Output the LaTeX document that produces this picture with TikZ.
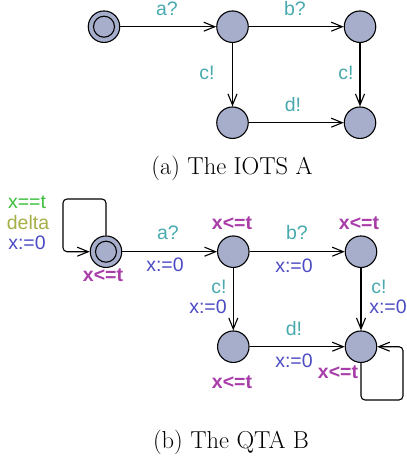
\documentclass[tikz,border=0pt]{standalone}
\usepackage{fontspec}
\newfontfamily\lblfont{Liberation Sans}
\usetikzlibrary{arrows.meta}
\definecolor{nodefill}{HTML}{A6AECC}
\definecolor{chancol}{HTML}{48AAAE}
\definecolor{asgcol}{HTML}{4B4BC3}
\definecolor{invcol}{HTML}{A83CA8}
\definecolor{grdcol}{HTML}{3CBE3C}
\definecolor{syncol}{HTML}{A5AF46}
\tikzset{
  loc/.style={circle, draw=black, fill=nodefill, line width=1.1pt, minimum size=31.5pt, inner sep=0pt},
  edge/.style={line width=1.1pt, -{Straight Barb[length=11pt,width=9pt,line width=1.1pt]}},
  lbl/.style={font=\lblfont\fontsize{19.5}{22}\selectfont, inner sep=0pt},
  chan/.style={lbl, text=chancol},
  asg/.style={lbl, text=asgcol},
  grd/.style={lbl, text=grdcol},
  syn/.style={lbl, text=syncol},
  inv/.style={lbl, text=invcol, font=\lblfont\bfseries\fontsize{19.5}{22}\selectfont},
  capt/.style={font=\fontsize{24.5}{28}\selectfont, inner sep=0pt}
}
\begin{document}
\begin{tikzpicture}[x=1pt,y=-1pt]
\useasboundingbox (0,0) rectangle (407,461);
% ---------- (a) ----------
\node[loc] (a0) at (104,26.7) {};
\node[circle, draw=black, line width=1.1pt, minimum size=21pt, inner sep=0pt] (a0in) at (104,26.7) {};
\node[loc] (a1) at (232.5,26.7) {};
\node[loc] (a2) at (360,26.7) {};
\node[loc] (a3) at (232.5,122.7) {};
\node[loc] (a4) at (360,122.7) {};
\draw[edge] (a0) -- (a1);
\draw[edge] (a1) -- (a2);
\draw[edge] (a1) -- (a3);
\draw[edge] (a2) -- (a4);
\draw[edge] (a3) -- (a4);
\node[chan] (la1) at (167,9) {a?};
\node[chan] (la2) at (295,9) {b?};
\node[chan] (la3) at (207,73) {c!};
\node[chan] (la4) at (346,73) {c!};
\node[chan] (la5) at (293,105) {d!};
\node[capt] (capa) at (232,168) {(a) The IOTS A};
% ---------- (b) ----------
\node[loc] (b0) at (106,251.7) {};
\node[circle, draw=black, line width=1.1pt, minimum size=21pt, inner sep=0pt] (b0in) at (106,251.7) {};
\node[loc] (b1) at (233.3,251.7) {};
\node[loc] (b2) at (361,251.7) {};
\node[loc] (b3) at (233.3,346.7) {};
\node[loc] (b4) at (361,346.7) {};
\coordinate (lp0) at (63,199);
\coordinate (lp1) at (403,400);
\draw[edge, rounded corners=4pt] (b0.north) |- (lp0) |- (b0.west);
\draw[edge] (b0) -- (b1);
\draw[edge] (b1) -- (b2);
\draw[edge] (b1) -- (b3);
\draw[edge] (b2) -- (b4);
\draw[edge] (b3) -- (b4);
\draw[edge, rounded corners=4pt] (b4.south) |- (lp1) |- (b4.east);
% loop labels
\node[grd] (g0) at (27,202) {x==t};
\node[syn] (s0) at (28,223) {delta};
\node[asg] (u0) at (27,243) {x:=0};
% invariants
\node[inv] (i0) at (103,275) {x<=t};
\node[inv] (i1) at (232,223) {x<=t};
\node[inv] (i2) at (359,223) {x<=t};
\node[inv] (i3) at (232,382) {x<=t};
\node[inv] (i4) at (338,372.5) {x<=t};
% edge labels
\node[chan] (lb1) at (168,233) {a?};
\node[asg] (ub1) at (165,265) {x:=0};
\node[chan] (lb2) at (297,233) {b?};
\node[asg] (ub2) at (294,266) {x:=0};
\node[chan] (lb3) at (219,287) {c!};
\node[asg] (ub3) at (208,307) {x:=0};
\node[chan] (lb4) at (379,287) {c!};
\node[asg] (ub4) at (388,307) {x:=0};
\node[chan] (lb5) at (294,329) {d!};
\node[asg] (ub5) at (294,361) {x:=0};
\node[capt] (capb) at (231,442) {(b) The QTA B};
\end{tikzpicture}
\end{document}
